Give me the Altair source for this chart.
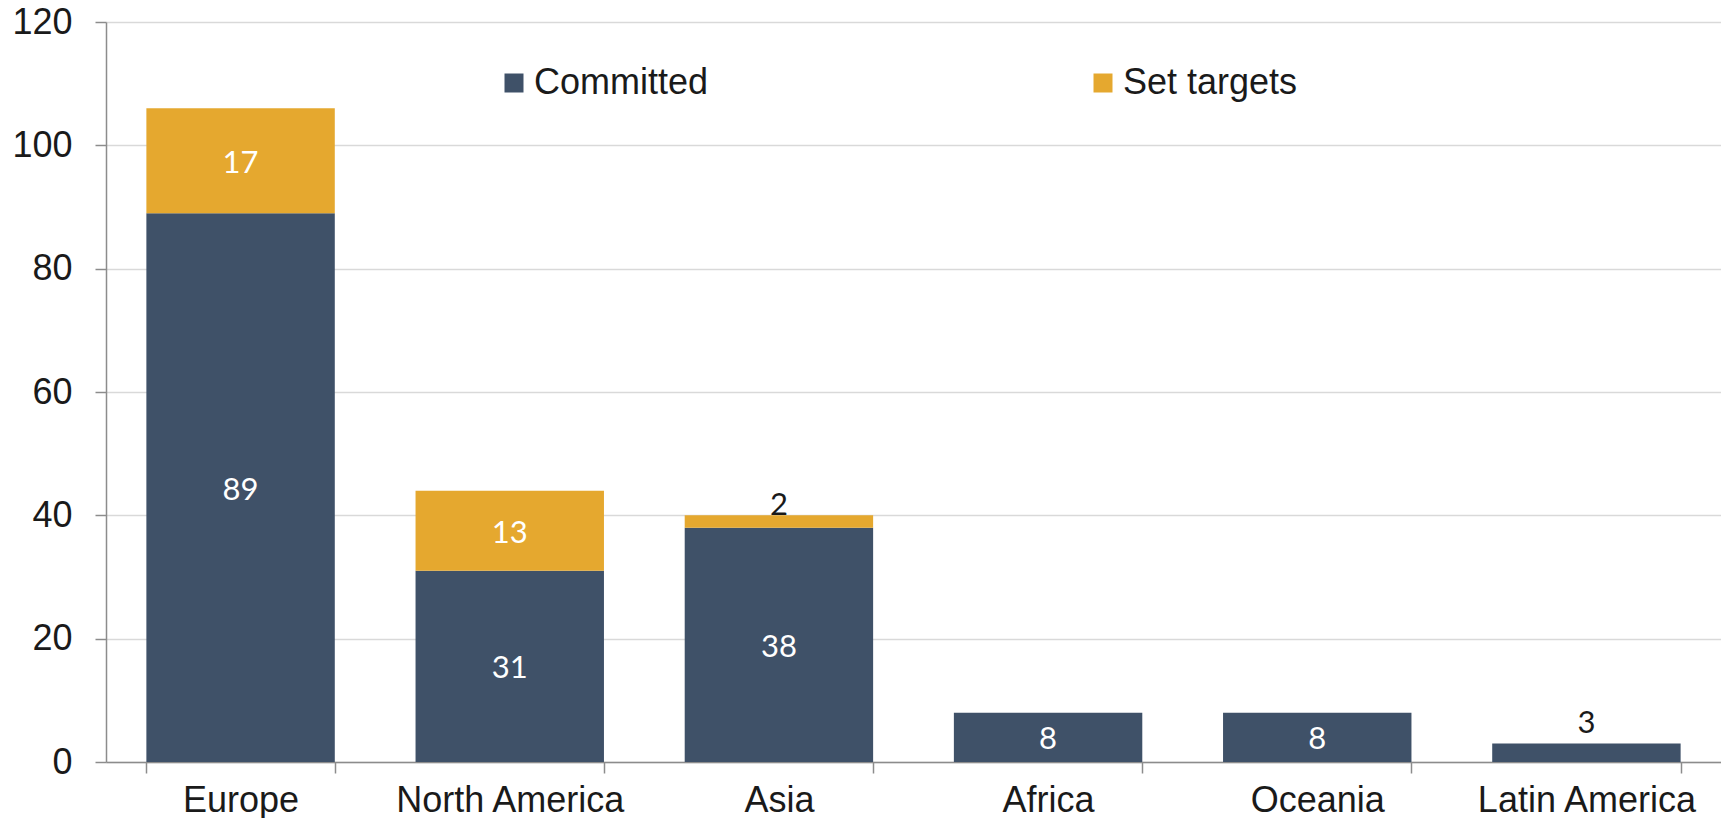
import altair as alt
import pandas as pd

regions = ["Europe", "North America", "Asia", "Africa", "Oceania", "Latin America"]
committed = [89, 31, 38, 8, 8, 3]
set_targets = [17, 13, 2, 0, 0, 0]
series = ["Committed", "Set targets"]
colors = ["#3F5168", "#E5A82F"]
y_ticks = [0, 20, 40, 60, 80, 100, 120]

rows = []
for r, c, t in zip(regions, committed, set_targets):
    rows.append({"region": r, "series": series[0], "value": c, "order": 0})
    if t > 0:
        rows.append({"region": r, "series": series[1], "value": t, "order": 1})
df = pd.DataFrame(rows)

AXIS_FONT = "Liberation Sans"
LABEL_FONT = "Lato"

base = (
    alt.Chart(df)
    .transform_stack(
        stack="value",
        as_=["y0", "y1"],
        groupby=["region"],
        sort=[alt.SortField("order", order="ascending")],
    )
    .transform_calculate(mid="(datum.y0 + datum.y1) / 2")
)

x_enc = alt.X(
    "region:N",
    sort=regions,
    scale=alt.Scale(paddingInner=0.3, paddingOuter=0.15),
    axis=alt.Axis(
        title=None,
        labelAngle=0,
        tickBand="extent",
        grid=False,
        labelFont=AXIS_FONT,
        labelFontSize=36,
        labelColor="#1a1a1a",
        labelPadding=10,
        labelLimit=1000,
        domainColor="#8C8C8C",
        domainWidth=1.5,
        tickColor="#8C8C8C",
        tickWidth=1.5,
        tickSize=11,
    ),
)

y_scale = alt.Scale(domain=[0, 120], nice=False)

bars = base.mark_bar().encode(
    x=x_enc,
    y=alt.Y(
        "y0:Q",
        scale=y_scale,
        axis=alt.Axis(
            title=None,
            values=y_ticks,
            grid=True,
            gridColor="#D9D9D9",
            gridWidth=1.5,
            labelFont=AXIS_FONT,
            labelFontSize=36,
            labelColor="#1a1a1a",
            labelPadding=23,
            domainColor="#8C8C8C",
            domainWidth=1.5,
            tickColor="#8C8C8C",
            tickWidth=1.5,
            tickSize=11,
        ),
    ),
    y2="y1:Q",
    color=alt.Color(
        "series:N",
        scale=alt.Scale(domain=series, range=colors),
        legend=alt.Legend(
            title=None,
            orient="none",
            legendX=390,
            legendY=43,
            direction="horizontal",
            columnPadding=376,
            symbolType="square",
            symbolSize=361,
            symbolStrokeWidth=0,
            symbolOpacity=1,
            labelFont=AXIS_FONT,
            labelFontSize=36,
            labelColor="#1a1a1a",
            labelOffset=2,
            labelLimit=500,
            padding=0,
        ),
    ),
)

inside = base.transform_filter("datum.value >= 5").mark_text(
    font=LABEL_FONT, fontSize=31, color="white", baseline="middle", dy=3
).encode(
    x=alt.X("region:N", sort=regions),
    y=alt.Y("mid:Q", scale=y_scale),
    text="value:Q",
)

outside_top = base.transform_filter(
    "datum.value < 5 && datum.series == 'Set targets'"
).mark_text(
    font=LABEL_FONT, fontSize=31, color="#1a1a1a", baseline="middle", dy=-9
).encode(
    x=alt.X("region:N", sort=regions),
    y=alt.Y("y1:Q", scale=y_scale),
    text="value:Q",
)

outside_low = base.transform_filter(
    "datum.value < 5 && datum.series == 'Committed'"
).mark_text(
    font=LABEL_FONT, fontSize=31, color="#1a1a1a", baseline="middle", dy=-20
).encode(
    x=alt.X("region:N", sort=regions),
    y=alt.Y("y1:Q", scale=y_scale),
    text="value:Q",
)

chart = (
    alt.layer(bars, inside, outside_top, outside_low)
    .properties(
        width=1615,
        height=740,
        autosize=alt.AutoSizeParams(type="none"),
        padding={"left": 98, "top": 14, "right": 0, "bottom": 56},
        background="white",
    )
    .configure_view(stroke=None)
)

chart.save("out.html", embed_options={"renderer": "svg", "actions": False})
